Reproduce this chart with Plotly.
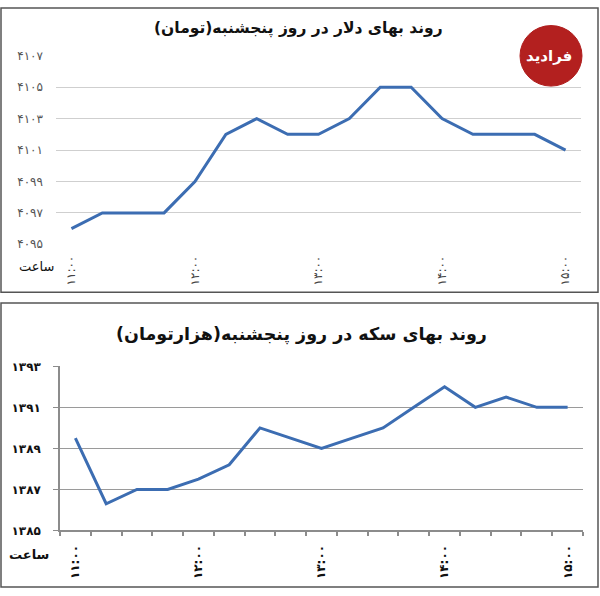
import plotly.graph_objects as go

# ---- data ----
times = ["11:00", "11:15", "11:30", "11:45", "12:00", "12:15", "12:30", "12:45",
         "13:00", "13:15", "13:30", "13:45", "14:00", "14:15", "14:30", "14:45", "15:00"]
dollar = [4096, 4097, 4097, 4097, 4099, 4102, 4103, 4102,
          4102, 4103, 4105, 4105, 4103, 4102, 4102, 4102, 4101]
coin = [1389.5, 1386.3, 1387, 1387, 1387.5, 1388.2, 1390, 1389.5,
        1389, 1389.5, 1390, 1391, 1392, 1391, 1391.5, 1391, 1391]
dollar_ticks = [4095, 4097, 4099, 4101, 4103, 4105, 4107]
coin_ticks = [1385, 1387, 1389, 1391, 1393]
label_times = ["11:00", "12:00", "13:00", "14:00", "15:00"]
title_dollar = "روند بهای دلار در روز پنجشنبه(تومان)"
title_coin = "روند بهای سکه در روز پنجشنبه(هزارتومان)"
hour_word = "ساعت"
logo_text = "فرادید"

FA = str.maketrans("0123456789", "۰۱۲۳۴۵۶۷۸۹")
def fa(v):
    return str(v).translate(FA)

W, H = 600, 596
def px(x):
    return x / W
def py(y):
    return 1 - y / H

idx = list(range(len(times)))
label_idx = [times.index(t) for t in label_times]
FONT = "DejaVu Sans"
BLUE = "#3c6db2"

fig = go.Figure()
fig.add_trace(go.Scatter(x=idx, y=dollar, mode="lines", line=dict(color=BLUE, width=3),
                         xaxis="x", yaxis="y", showlegend=False, hoverinfo="skip"))
fig.add_trace(go.Scatter(x=idx, y=coin, mode="lines", line=dict(color=BLUE, width=3),
                         xaxis="x2", yaxis="y2", showlegend=False, hoverinfo="skip"))

xr = [-0.5, len(times) - 0.5]
fig.update_layout(
    width=W, height=H, margin=dict(l=0, r=0, t=0, b=0),
    paper_bgcolor="white", plot_bgcolor="white",
    font=dict(family=FONT, color="#222"),
    xaxis=dict(domain=[px(56), px(581)], anchor="y", range=xr,
               tickmode="array", tickvals=label_idx, ticktext=[fa(t) for t in label_times],
               tickangle=-90, showgrid=False, zeroline=False, showline=False, ticks="",
               tickfont=dict(size=12, color="#444"), ticklabelstandoff=8),
    yaxis=dict(domain=[py(243), py(50)], anchor="x", range=[4095, 4107],
               tickmode="array", tickvals=dollar_ticks, ticktext=[fa(v) for v in dollar_ticks],
               showgrid=True, gridcolor="#cfcfcf", gridwidth=1, zeroline=False, showline=False,
               ticks="", tickfont=dict(size=12, color="#555"), ticklabelstandoff=12),
    xaxis2=dict(domain=[px(60), px(583)], anchor="y2", range=xr,
                tickmode="array", tickvals=label_idx, ticktext=["<b>" + fa(t) + "</b>" for t in label_times],
                tickangle=-90, showgrid=False, zeroline=False, showline=True,
                linecolor="#8c8c8c", linewidth=1.5, ticks="",
                minor=dict(tick0=-0.5, dtick=1, ticks="outside", ticklen=4,
                           tickcolor="#8c8c8c", tickwidth=1.5, showgrid=False),
                tickfont=dict(size=12, color="#111"), ticklabelstandoff=8),
    yaxis2=dict(domain=[py(536), py(368)], anchor="x2", range=[1385, 1393],
                tickmode="array", tickvals=coin_ticks, ticktext=["<b>" + fa(v) + "</b>" for v in coin_ticks],
                showgrid=True, gridcolor="#9a9a9a", gridwidth=1.2, zeroline=False,
                showline=True, linecolor="#8c8c8c", linewidth=1.5,
                ticks="outside", ticklen=5, tickcolor="#8c8c8c", tickwidth=1.2,
                tickfont=dict(size=12, color="#111"), ticklabelstandoff=10),
)

# panel frames
for (y0, y1) in [(292, 1), (594, 303)]:
    fig.add_shape(type="rect", xref="paper", yref="paper",
                  x0=px(1), x1=px(598), y0=py(y0), y1=py(y1),
                  line=dict(color="#555", width=1.5), fillcolor="rgba(0,0,0,0)", layer="below")

# titles
fig.add_annotation(text=title_dollar, xref="paper", yref="paper",
                   x=px(298), y=py(10), showarrow=False,
                   font=dict(size=15.5, color="#111", weight="bold"))
fig.add_annotation(text=title_coin, xref="paper", yref="paper",
                   x=px(301), y=py(335), showarrow=False,
                   font=dict(size=17.5, color="#111", weight="bold"))
# hour labels
fig.add_annotation(text=hour_word, xref="paper", yref="paper", xanchor="right", yanchor="middle",
                   x=px(56), y=py(266), showarrow=False, font=dict(size=13, color="#111"))
fig.add_annotation(text=hour_word, xref="paper", yref="paper", xanchor="right", yanchor="middle",
                   x=px(51), y=py(561), showarrow=False,
                   font=dict(size=13, color="#111", weight="bold"))

# logo
fig.add_shape(type="circle", xref="paper", yref="paper",
              x0=px(520), x1=px(582), y0=py(81), y1=py(19),
              line=dict(color="#b01e1e", width=1), fillcolor="#b3201f")
fig.add_annotation(text=logo_text, xref="paper", yref="paper",
                   x=px(574), y=py(50), xanchor="right", yanchor="middle", showarrow=False,
                   font=dict(size=15, color="white", weight="bold"))

fig.write_html("out.html", config={"displayModeBar": False},
               post_script="document.body.style.margin='0';document.body.style.overflow='hidden';")
